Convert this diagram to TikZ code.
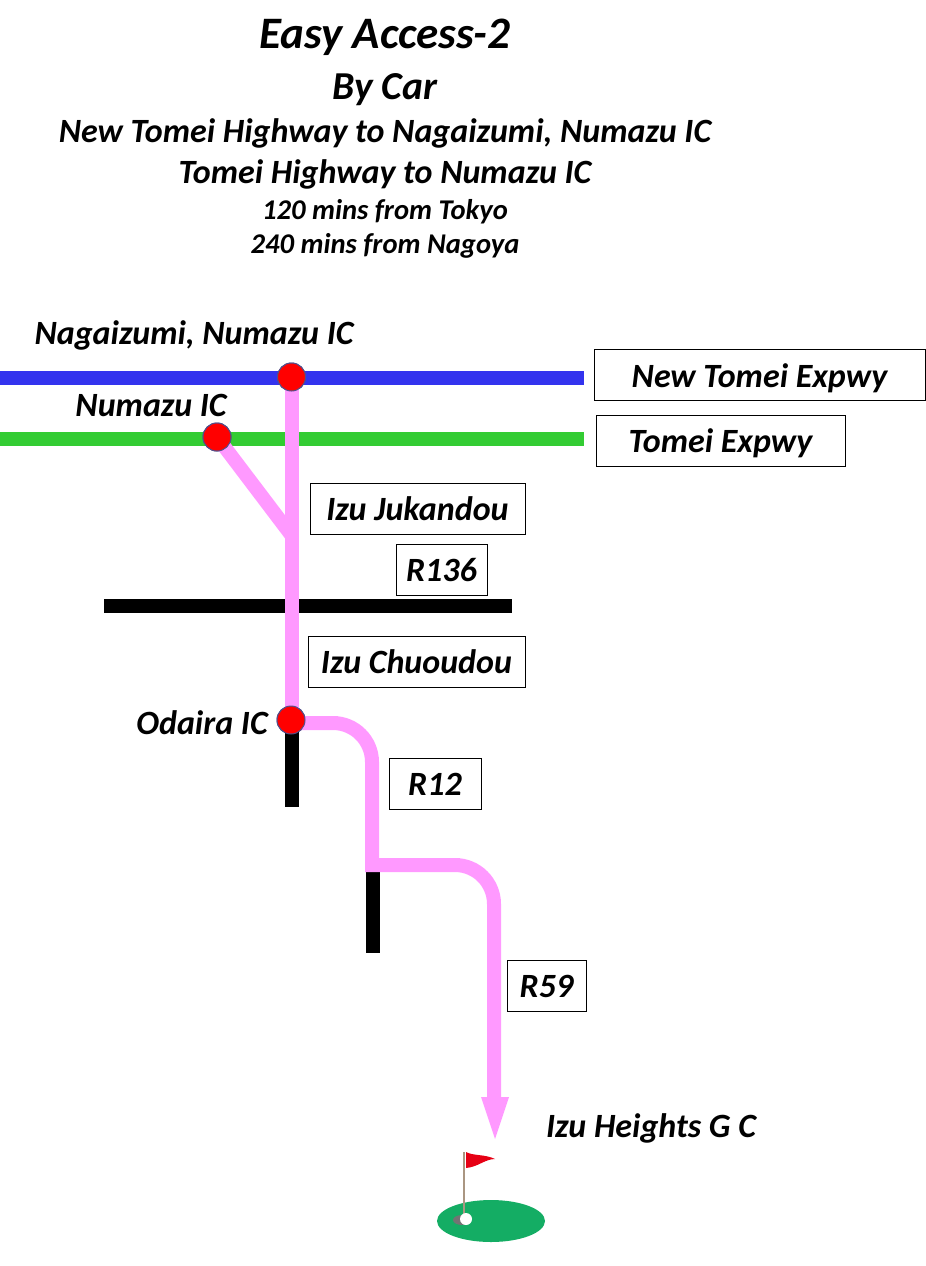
\documentclass[tikz,border=0pt]{standalone}
\usepackage{fontspec}
\setmainfont{Carlito}
\usetikzlibrary{arrows.meta}
\definecolor{pinkroad}{RGB}{255,153,255}
\definecolor{bluer}{RGB}{51,51,238}
\definecolor{greenr}{RGB}{51,204,51}
\definecolor{rim}{RGB}{80,80,140}
\definecolor{turf}{RGB}{20,173,100}
\definecolor{flagred}{RGB}{230,0,20}
\definecolor{pole}{RGB}{170,150,130}
\tikzset{
 x=1pt,y=-1pt,
 lab/.style={font=\bfseries\itshape\fontsize{34}{34}\selectfont,text=black,inner sep=0pt,anchor=center},
 boxlab/.style={draw=black,line width=1pt,fill=white,minimum height=51pt,inner sep=0pt,text height=30pt,text depth=6pt,font=\bfseries\itshape\fontsize{34}{34}\selectfont,anchor=center},
 ic/.style={circle,fill=red,draw=rim,line width=1pt,minimum size=28pt,inner sep=0pt},
 road/.style={line width=14pt},
 pinkr/.style={road,draw=pinkroad},
 blackr/.style={road,draw=black}
}
\begin{document}
\begin{tikzpicture}
\useasboundingbox (0,0) rectangle (926,1266);
\node[lab,font=\bfseries\itshape\fontsize{45}{45}\selectfont] (t1) at (385,37) {Easy Access-2};
\node[lab,font=\bfseries\itshape\fontsize{39.6}{40}\selectfont] (t2) at (385,89.5) {By Car};
\node[lab] (t3) at (385,133) {New Tomei Highway to Nagaizumi, Numazu IC};
\node[lab] (t4) at (385,174) {Tomei Highway to Numazu IC};
\node[lab,font=\bfseries\itshape\fontsize{28.6}{29}\selectfont] (t5) at (385,212) {120 mins from Tokyo};
\node[lab,font=\bfseries\itshape\fontsize{28.6}{29}\selectfont] (t6) at (385,246) {240 mins from Nagoya};

\coordinate (bl) at (0,377.5); \coordinate (br) at (584,377.5);
\coordinate (gl) at (0,439); \coordinate (gr) at (584,439);
\draw[road,draw=bluer] (bl) -- (br);
\draw[road,draw=greenr] (gl) -- (gr);

\coordinate (kl) at (104,606); \coordinate (kr) at (512,606);
\draw[blackr] (kl) -- (kr);

\node[ic] (nn) at (291.5,377) {};
\node[ic] (nz) at (217,437) {};
\node[ic] (od) at (291,720) {};
\coordinate (j) at (292,536);
\coordinate (odb) at (292,807);
\coordinate (r1) at (373,865);
\coordinate (r1b) at (373,953);

\draw[blackr] (od.center) ++(1,0) -- (odb);
\draw[pinkr] (nn.center) ++(0.5,0) -- (292,720);
\draw[pinkr] (nz.center) -- (j);
\draw[pinkr] (od.center) ++(0,3) -- (333,723) arc[start angle=-90,end angle=0,radius=39] -- (372,872);
\draw[blackr] (r1 |- 0,872) -- (r1b);
\draw[pinkr] (365,865) -- (455,865) arc[start angle=-90,end angle=0,radius=39] -- (494,1100);
\fill[pinkroad] (481,1097) -- (509,1097) -- (495,1139) -- cycle;

\node[ic] at (nn) {};
\node[ic] at (nz) {};
\node[ic] at (od) {};

\fill[turf] (491,1221) ellipse[x radius=54,y radius=21];
\fill[black!55] (462,1220) ellipse[x radius=9,y radius=5];
\draw[pole,line width=2pt] (463.5,1152) -- (463.5,1216);
\fill[flagred] (466,1152) .. controls (473,1156) and (485,1154) .. (495,1159) .. controls (485,1159) and (478,1167) .. (466,1168) -- cycle;
\fill[white] (466,1219) circle[radius=6];

\node[lab] (l1) at (194,335) {Nagaizumi, Numazu IC};
\node[lab] (l2) at (151,405.5) {Numazu IC};
\node[lab] (l3) at (202,723) {Odaira IC};
\node[lab] (l4) at (651,1128) {Izu Heights G C};

\node[boxlab,minimum width=331pt] (b1) at (759.5,375) {New Tomei Expwy};
\node[boxlab,minimum width=249pt] (b2) at (720.5,440.5) {Tomei Expwy};
\node[boxlab,minimum width=215pt] (b3) at (417.5,508.5) {Izu Jukandou};
\node[boxlab,minimum width=91pt] (b4) at (441.5,569.5) {R136};
\node[boxlab,minimum width=217pt] (b5) at (416.5,661.5) {Izu Chuoudou};
\node[boxlab,minimum width=92pt] (b6) at (435,783.5) {R12};
\node[boxlab,minimum width=79pt] (b7) at (546.5,985.5) {R59};
\end{tikzpicture}
\end{document}
